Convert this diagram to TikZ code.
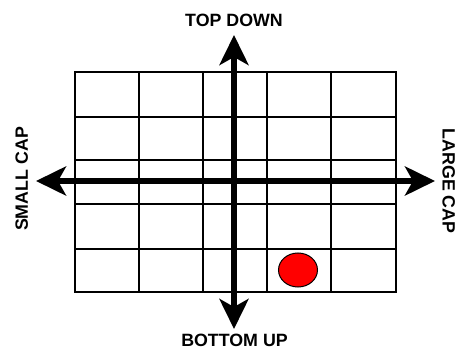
\documentclass[tikz,border=0pt]{standalone}
\usepackage{fontspec}
\setmainfont{Liberation Sans}
\usetikzlibrary{arrows.meta,shapes.geometric}
\begin{document}
\begin{tikzpicture}[x=1pt,y=-1pt,
  gridline/.style={line width=1.8pt},
  axisline/.style={line width=5.5pt,{Stealth[length=30pt,width=29pt,inset=8pt]}-{Stealth[length=30pt,width=29pt,inset=8pt]}},
  lbl/.style={font=\fontsize{17.8}{20}\selectfont\bfseries,inner sep=0pt},
  dot/.style={ellipse,draw=black,line width=1pt,fill=red,minimum width=39pt,minimum height=34pt,inner sep=0pt}]
\useasboundingbox (0,0) rectangle (459,350);
% grid
\foreach \x in {75,139,203,267,331,396}
  \draw[gridline] (\x,72) -- (\x,292);
\foreach \y in {72,117,160,204,249,292}
  \draw[gridline] (74,\y) -- (397,\y);
% red dot
\node[dot] (d) at (298,270) {};
% axis ends
\coordinate (t) at (234,35);
\coordinate (b) at (234,329);
\coordinate (l) at (36,181);
\coordinate (r) at (435,181);
\draw[axisline] (b) -- (t);
\draw[axisline] (l) -- (r);
% labels
\node[lbl] (top) at (234,20.5) {TOP DOWN};
\node[lbl] (bot) at (234.5,340.3) {BOTTOM UP};
\node[lbl,rotate=90] (small) at (21.7,179) {SMALL CAP};
\node[lbl,rotate=-90] (large) at (448.8,181) {LARGE CAP};
\end{tikzpicture}
\end{document}
